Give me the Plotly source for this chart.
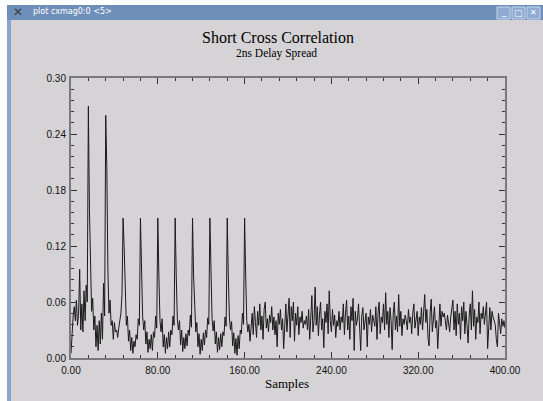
import plotly.graph_objects as go

# ---- data ----
peaks_region = [
    0.005, 0.030, 0.045, 0.055, 0.040, 0.062, 0.035, 0.048, 0.095, 0.030,
    0.058, 0.028, 0.072, 0.040, 0.078, 0.060, 0.270, 0.158, 0.078, 0.050,
    0.064, 0.030, 0.045, 0.012, 0.035, 0.008, 0.040, 0.015, 0.048, 0.020,
    0.080, 0.045, 0.260, 0.205, 0.095, 0.048, 0.062, 0.035, 0.040, 0.020,
    0.038, 0.028, 0.030, 0.022, 0.032, 0.040, 0.048, 0.068, 0.150, 0.118,
    0.085, 0.035, 0.045, 0.018, 0.030, 0.008, 0.022, 0.005, 0.018, 0.012,
    0.025, 0.020, 0.042, 0.035, 0.150, 0.087, 0.045, 0.030, 0.040, 0.015,
    0.028, 0.006, 0.020, 0.010, 0.025, 0.008, 0.028, 0.022, 0.045, 0.032,
    0.150, 0.088, 0.040, 0.028, 0.042, 0.012, 0.025, 0.005, 0.022, 0.010,
    0.028, 0.012, 0.030, 0.025, 0.045, 0.035, 0.150, 0.088, 0.042, 0.030,
    0.040, 0.014, 0.030, 0.007, 0.022, 0.010, 0.026, 0.013, 0.030, 0.024,
    0.046, 0.033, 0.150, 0.088, 0.044, 0.028, 0.038, 0.012, 0.026, 0.004,
    0.020, 0.008, 0.027, 0.014, 0.030, 0.022, 0.043, 0.036, 0.150, 0.087,
    0.042, 0.029, 0.040, 0.015, 0.028, 0.006, 0.022, 0.009, 0.026, 0.012,
    0.028, 0.024, 0.044, 0.034, 0.150, 0.088, 0.043, 0.030, 0.039, 0.013,
    0.027, 0.005, 0.021, 0.003, 0.024, 0.010, 0.030, 0.026, 0.048, 0.036,
    0.150,
]
noise_region = [
    0.088, 0.040, 0.028, 0.036, 0.018, 0.030, 0.048, 0.025, 0.055, 0.038,
    0.022, 0.050, 0.035, 0.058, 0.030, 0.045, 0.020, 0.052, 0.060, 0.032,
    0.042, 0.028, 0.046, 0.038, 0.055, 0.030, 0.044, 0.025, 0.040, 0.012,
    0.048, 0.036, 0.052, 0.030, 0.042, 0.010, 0.045, 0.058, 0.028, 0.050,
    0.064, 0.022, 0.055, 0.040, 0.060, 0.018, 0.048, 0.035, 0.055, 0.025,
    0.044, 0.038, 0.050, 0.032, 0.040, 0.036, 0.045, 0.030, 0.052, 0.020,
    0.048, 0.067, 0.028, 0.040, 0.076, 0.035, 0.055, 0.024, 0.046, 0.060,
    0.030, 0.042, 0.011, 0.050, 0.038, 0.058, 0.026, 0.072, 0.040, 0.028,
    0.052, 0.035, 0.046, 0.022, 0.040, 0.034, 0.050, 0.030, 0.044, 0.038,
    0.058, 0.025, 0.048, 0.062, 0.030, 0.045, 0.020, 0.055, 0.040, 0.064,
    0.008, 0.050, 0.035, 0.042, 0.058, 0.030, 0.008, 0.045, 0.054, 0.030,
    0.040, 0.048, 0.012, 0.044, 0.036, 0.052, 0.028, 0.046, 0.040, 0.034,
    0.055, 0.020, 0.048, 0.060, 0.026, 0.044, 0.038, 0.058, 0.030, 0.070,
    0.036, 0.050, 0.022, 0.054, 0.040, 0.009, 0.048, 0.060, 0.030, 0.045,
    0.028, 0.068, 0.034, 0.050, 0.024, 0.042, 0.036, 0.046, 0.040, 0.030,
    0.052, 0.038, 0.044, 0.026, 0.048, 0.058, 0.032, 0.040, 0.050, 0.024,
    0.044, 0.036, 0.054, 0.030, 0.046, 0.068, 0.038, 0.052, 0.022, 0.013,
    0.048, 0.063, 0.028, 0.044, 0.055, 0.032, 0.040, 0.010, 0.046, 0.058,
    0.034, 0.050, 0.044, 0.048, 0.040, 0.030, 0.046, 0.038, 0.028, 0.044,
    0.055, 0.062, 0.030, 0.050, 0.024, 0.058, 0.036, 0.048, 0.020, 0.055,
    0.040, 0.060, 0.026, 0.050, 0.035, 0.016, 0.046, 0.058, 0.030, 0.072,
    0.034, 0.052, 0.020, 0.044, 0.038, 0.060, 0.026, 0.048, 0.042, 0.055,
    0.036, 0.046, 0.060, 0.010, 0.040, 0.054, 0.030, 0.050, 0.044, 0.040,
    0.036, 0.020, 0.012, 0.048, 0.038, 0.026, 0.042, 0.034, 0.040, 0.032,
]
magnitude = peaks_region + noise_region
samples = list(range(len(magnitude)))

x_ticks = [0, 80, 160, 240, 320, 400]
y_ticks = [0.00, 0.06, 0.12, 0.18, 0.24, 0.30]

# ---- layout geometry (pixels) ----
W, H = 543, 401
L, R, T, B = 71, 505, 78, 358
pw, ph = R - L, B - T


def px(x):
    return (x - L) / pw


def py(y):
    return (B - y) / ph


GRAY = "#d6d3d6"
BLUE = "#6f8fbb"

fig = go.Figure()
fig.add_trace(go.Scatter(x=samples, y=magnitude, mode="lines",
                         line=dict(color="#1a1a1a", width=1), hoverinfo="skip",
                         showlegend=False))

shapes = [
    dict(type="rect", xref="paper", yref="paper", x0=px(0), x1=px(W), y0=py(0), y1=py(5),
         fillcolor="#ffffff", line_width=0, layer="below"),
    dict(type="rect", xref="paper", yref="paper", x0=px(0), x1=px(7), y0=py(0), y1=py(H),
         fillcolor="#ffffff", line_width=0, layer="below"),
    dict(type="rect", xref="paper", yref="paper", x0=px(7), x1=px(W), y0=py(5), y1=py(20),
         fillcolor=BLUE, line_width=0, layer="below"),
    dict(type="rect", xref="paper", yref="paper", x0=px(7), x1=px(11), y0=py(20), y1=py(H),
         fillcolor="#8aa6cc", line_width=0, layer="below"),
]
for bx in (497, 512, 527):
    shapes.append(dict(type="rect", xref="paper", yref="paper", x0=px(bx), x1=px(bx + 13),
                       y0=py(7), y1=py(19), fillcolor="#8fabd2",
                       line=dict(color="#c8d6ea", width=1), layer="above"))

annotations = [
    dict(text="plot cxmag0:0 &lt;5&gt;", xref="paper", yref="paper", x=px(31), y=py(12),
         xanchor="left", yanchor="middle", showarrow=False,
         font=dict(family="DejaVu Sans", size=8, color="#ffffff")),
    dict(text="✕", xref="paper", yref="paper", x=px(18), y=py(12),
         xanchor="center", yanchor="middle", showarrow=False,
         font=dict(family="DejaVu Sans", size=12, color="#3a3a3a")),
    dict(text="_", xref="paper", yref="paper", x=px(503.5), y=py(12),
         xanchor="center", yanchor="middle", showarrow=False,
         font=dict(family="DejaVu Sans", size=9, color="#ffffff")),
    dict(text="□", xref="paper", yref="paper", x=px(518.5), y=py(13),
         xanchor="center", yanchor="middle", showarrow=False,
         font=dict(family="DejaVu Sans", size=9, color="#ffffff")),
    dict(text="✕", xref="paper", yref="paper", x=px(533.5), y=py(13),
         xanchor="center", yanchor="middle", showarrow=False,
         font=dict(family="DejaVu Sans", size=8, color="#ffffff")),
    dict(text="Short Cross Correlation", xref="paper", yref="paper", x=px(278), y=py(37),
         xanchor="center", yanchor="middle", showarrow=False,
         font=dict(family="Liberation Serif", size=16, color="#000000")),
    dict(text="2ns Delay Spread", xref="paper", yref="paper", x=px(276), y=py(53),
         xanchor="center", yanchor="middle", showarrow=False,
         font=dict(family="Liberation Serif", size=11.5, color="#000000")),
    dict(text="Samples", xref="paper", yref="paper", x=px(287), y=py(383),
         xanchor="center", yanchor="middle", showarrow=False,
         font=dict(family="Liberation Serif", size=13, color="#000000")),
]

axis_common = dict(showgrid=False, zeroline=False, showline=True, linecolor="#7a7a7a",
                   linewidth=2, ticks="inside", ticklen=6, tickwidth=1,
                   tickcolor="#333333", mirror="ticks", tickformat=".2f",
                   tickfont=dict(family="Liberation Sans", size=10, color="#111111"))

fig.update_layout(
    width=W, height=H,
    margin=dict(l=L, r=W - R, t=T, b=H - B, pad=0),
    paper_bgcolor=GRAY, plot_bgcolor=GRAY,
    shapes=shapes, annotations=annotations,
    xaxis=dict(range=[0, 400], tickvals=x_ticks, ticklabelstandoff=2,
               minor=dict(dtick=16, ticks="inside", ticklen=3, tickcolor="#333333"),
               **axis_common),
    yaxis=dict(range=[0, 0.30], tickvals=y_ticks, ticklabelstandoff=1,
               minor=dict(dtick=0.012, ticks="inside", ticklen=3, tickcolor="#333333"),
               **axis_common),
)

fig.write_html("out.html", config={"displayModeBar": False},
               post_script="document.body.style.margin='0';document.body.style.overflow='hidden';")
